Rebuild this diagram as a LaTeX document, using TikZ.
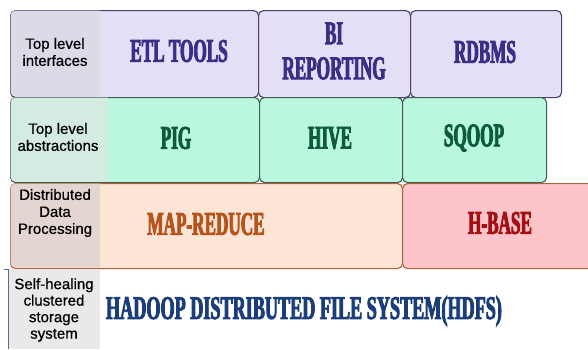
\documentclass[tikz,border=0pt]{standalone}
\usepackage{fontspec}
\setmainfont{Liberation Sans}
\newfontfamily\labfont[FakeBold=0.6]{Liberation Sans}
\newfontfamily\bigfont[FakeStretch=0.52,FakeBold=2.6]{Liberation Serif Bold}
\usetikzlibrary{positioning}
\definecolor{lavfill}{HTML}{E4DEF6}
\definecolor{lavlab}{HTML}{DDD9E6}
\definecolor{lavline}{HTML}{4A3F6B}
\definecolor{lavtext}{HTML}{3C2E85}
\definecolor{mintfill}{HTML}{B9F7DE}
\definecolor{mintlab}{HTML}{D3EBE1}
\definecolor{mintline}{HTML}{3F5E52}
\definecolor{minttext}{HTML}{0E5B3B}
\definecolor{peachfill}{HTML}{FDE5D6}
\definecolor{peachlab}{HTML}{E3D5D0}
\definecolor{peachline}{HTML}{B0603A}
\definecolor{peachtext}{HTML}{B5541C}
\definecolor{pinkfill}{HTML}{FDC5C9}
\definecolor{pinktext}{HTML}{A30F12}
\definecolor{hdfslab}{HTML}{E9E9E9}
\definecolor{hdfsline}{HTML}{5A6A8A}
\definecolor{hdfstext}{HTML}{1B3D7A}

\begin{document}
\begin{tikzpicture}[
  x=1pt,y=-1pt,
  cell/.style={draw,rounded corners=5pt,line width=1.1pt,anchor=north west,
    inner sep=0pt},
  rowlab/.style={font=\labfont\fontsize{15}{17}\selectfont,align=center,text=black},
  big/.style={font=\bigfont\fontsize{33}{35}\selectfont,align=center}
]
\useasboundingbox[fill=white] (0,0) rectangle (588,349);

% top level interfaces
\node[cell,fill=lavfill,draw=lavline,minimum width=248pt,minimum height=87pt] (etl) at (10,10) {};
\fill[lavlab] (100,10.6) [rounded corners=4.5pt] -- (10.6,10.6) -- (10.6,96.4) [sharp corners] -- (100,96.4) -- cycle;
\node[cell,fill=lavfill,draw=lavline,minimum width=152pt,minimum height=87pt] (bi) at (258,10) {};
\node[cell,fill=lavfill,draw=lavline,minimum width=151pt,minimum height=87pt] (rdbms) at (410,10) {};
\node[rowlab] (lab1) at (55,52) {Top level\\interfaces};
\node[big,text=lavtext] (etltxt) at (179,51) {ETL TOOLS};
\node[big,text=lavtext] (bitxt) at (334,51) {BI\\REPORTING};
\node[big,text=lavtext] (rdbmstxt) at (485,52) {RDBMS};

% top level abstractions
\node[cell,fill=mintfill,draw=mintline,minimum width=249pt,minimum height=85pt] (pig) at (10,97) {};
\fill[mintlab] (108,97.6) [rounded corners=4.5pt] -- (10.6,97.6) -- (10.6,181.4) [sharp corners] -- (108,181.4) -- cycle;
\node[cell,fill=mintfill,draw=mintline,minimum width=143pt,minimum height=85pt] (hive) at (259,97) {};
\node[cell,fill=mintfill,draw=mintline,minimum width=144pt,minimum height=85pt] (sqoop) at (402,97) {};
\node[rowlab] (lab2) at (58,137) {Top level\\abstractions};
\node[big,text=minttext] (pigtxt) at (176,138) {PIG};
\node[big,text=minttext] (hivetxt) at (330,138) {HIVE};
\node[big,text=minttext] (sqooptxt) at (474,138) {SQOOP};

% distributed data processing
\node[cell,fill=peachfill,draw=peachline,minimum width=392pt,minimum height=85pt] (mapred) at (10,183) {};
\fill[peachlab] (100,183.6) [rounded corners=4.5pt] -- (10.6,183.6) -- (10.6,267.4) [sharp corners] -- (100,267.4) -- cycle;
\node[cell,fill=pinkfill,draw=peachline,minimum width=198pt,minimum height=85pt] (hbase) at (402,183) {};
\node[rowlab] (lab3) at (55,213) {Distributed\\Data\\Processing};
\node[big,text=peachtext] (maptxt) at (206,224) {MAP-REDUCE};
\node[big,text=pinktext] (hbasetxt) at (500,223) {H-BASE};

% self-healing storage
\fill[hdfslab] (8,269) rectangle (100,349);
\draw[hdfsline,line width=1pt] (4,269) -- (8,269) -- (8,349);
\node[rowlab,font=\labfont\fontsize{15}{16.5}\selectfont] (lab4) at (54,310) {Self-healing\\clustered\\storage\\system};
\node[big,text=hdfstext,font=\bigfont\fontsize{33}{35}\selectfont] (hdfstxt) at (304,311) {\addfontfeature{FakeStretch=0.55}HADOOP DISTRIBUTED FILE SYSTEM(HDFS)};
\end{tikzpicture}
\end{document}
